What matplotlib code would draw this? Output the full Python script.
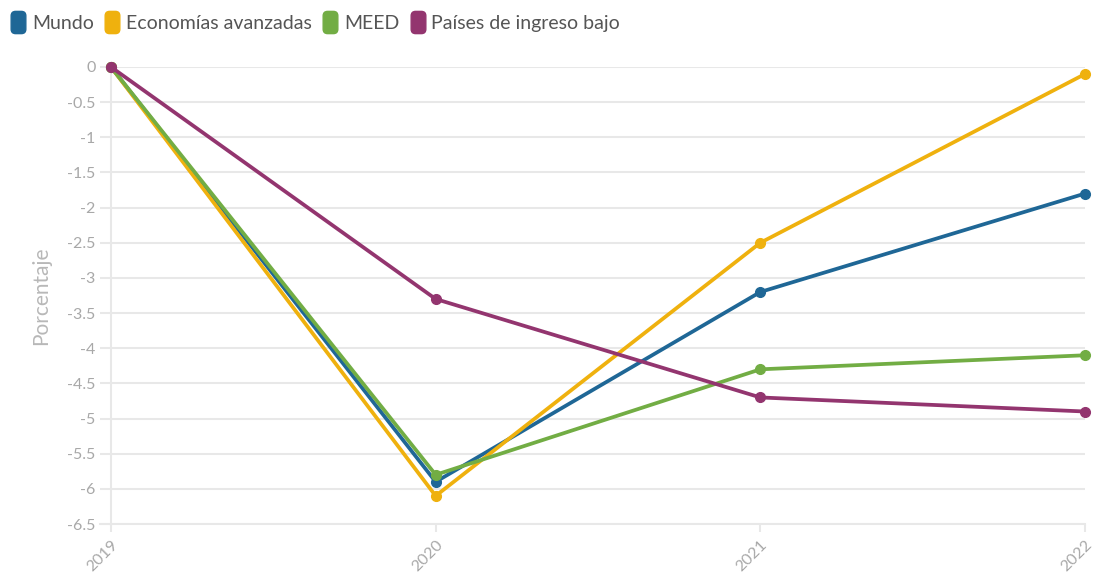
import matplotlib
matplotlib.use("Agg")
import matplotlib.pyplot as plt
from matplotlib.lines import Line2D
from matplotlib.patches import FancyBboxPatch
from matplotlib.markers import MarkerStyle

years = ["2019", "2020", "2021", "2022"]
mundo = [0, -5.9, -3.2, -1.8]
avanzadas = [0, -6.1, -2.5, -0.1]
meed = [0, -5.8, -4.3, -4.1]
bajo = [0, -3.3, -4.7, -4.9]
yticks = [0, -0.5, -1, -1.5, -2, -2.5, -3, -3.5, -4, -4.5, -5, -5.5, -6, -6.5]

names = ["Mundo", "Economías avanzadas", "MEED", "Países de ingreso bajo"]
colors = ["#1f6796", "#efb10e", "#72ad44", "#93356f"]
series = [mundo, avanzadas, meed, bajo]

plt.rcParams['font.family'] = ['Lato', 'DejaVu Sans']

fig = plt.figure(figsize=(10.95, 5.74), dpi=100)
ax = fig.add_axes([111/1095, 50/574, (1085-111)/1095, (524-67)/574])

x = list(range(len(years)))
order = [1, 0, 2, 3]
for i in order:
    ax.plot(x, series[i], color=colors[i], lw=2.7, marker='o', ms=7,
            clip_on=False, zorder=3 + i, solid_joinstyle='round')

ax.set_xlim(0, 3)
ax.set_ylim(-6.5, 0)
ax.set_yticks(yticks)
ax.set_yticklabels([f"{v:g}" for v in yticks])
ax.set_xticks(x)
ax.set_xticklabels(years, rotation=45, ha='right', va='top', rotation_mode='anchor')
ax.grid(axis='y', color='#e8e8e8', lw=1.5)
ax.set_axisbelow(True)
for s in ['top', 'right', 'bottom']:
    ax.spines[s].set_visible(False)
ax.spines['left'].set_color('#e8e8e8')
ax.spines['left'].set_linewidth(1.5)
ax.tick_params(axis='y', length=8, width=1.5, color='#e8e8e8', labelcolor='#a8a8a8',
               labelsize=11.5, pad=3)
ax.tick_params(axis='x', length=6, width=1.5, color='#e8e8e8', labelcolor='#a8a8a8',
               labelsize=11.5, pad=4)
ax.axhline(-6.5, color='#e8e8e8', lw=1.5, xmin=-11/974, clip_on=False, zorder=1)
ax.set_ylabel("Porcentaje", color='#b8b8b8', fontsize=15, labelpad=12)

# legend with rounded markers
bp = FancyBboxPatch((-0.33, -0.5), 0.66, 1.0, boxstyle="round,pad=0,rounding_size=0.2").get_path()
mk = MarkerStyle(bp)
handles = [Line2D([], [], ls='none', marker=mk, ms=16, color=c, mec=c) for c in colors]
leg = fig.legend(handles, names, loc='upper left', bbox_to_anchor=(0.0, 0.994), ncol=4,
                 frameon=False, fontsize=14, handlelength=0.7, handletextpad=0.35,
                 columnspacing=0.6, borderaxespad=0.3, borderpad=0.3, labelcolor='#555555')

fig.savefig("out.png", dpi=100, facecolor='white')
